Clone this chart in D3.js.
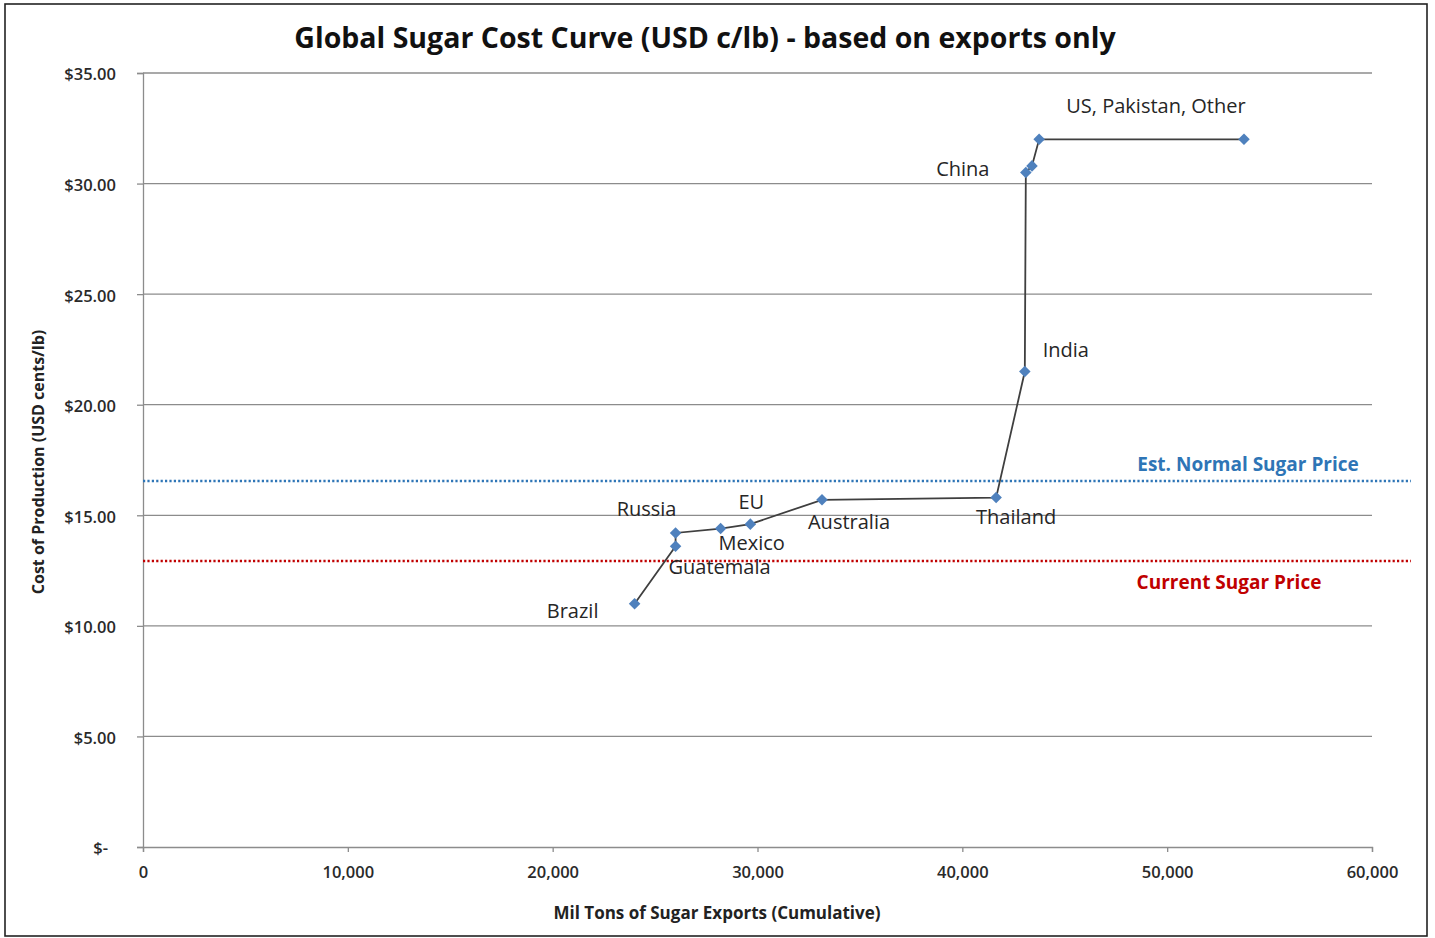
<!DOCTYPE html>
<html>
<head>
<meta charset="utf-8">
<script src="https://cdn.jsdelivr.net/npm/d3@7"></script>
<style>
  html, body { margin: 0; padding: 0; background: #fff; }
  svg { display: block; }
  text { font-family: "Open Sans", "DejaVu Sans", sans-serif; }
</style>
</head>
<body>
<svg id="chart" width="1435" height="938"></svg>
<script>
// Cumulative export volume (x) and cost of production (y) per producer
const countries = ["Brazil", "Guatemala", "Russia", "Mexico", "EU", "Australia", "Thailand", "India", "China", "", "", "US, Pakistan, Other"];
const cumulativeExports = [24000, 26000, 26000, 28200, 29650, 33150, 41650, 43050, 43100, 43400, 43750, 53750];
const productionCost = [11.0, 13.6, 14.2, 14.4, 14.6, 15.7, 15.8, 21.5, 30.5, 30.8, 32.0, 32.0];

// Reference price levels
const priceNames = ["Est. Normal Sugar Price", "Current Sugar Price"];
const priceValues = [16.55, 12.93];
const priceColors = ["#2e75b6", "#c00000"];

const xTicks = [0, 10000, 20000, 30000, 40000, 50000, 60000];
const yTicks = [0, 5, 10, 15, 20, 25, 30, 35];

// Label anchor offsets (pixels) relative to each point
const labelOffsets = [[-62, 7], [44, 21], [-29, -24], [31, 14], [1, -22], [27, 22], [20, 19], [41, -22], [-63, -4], [0, 0], [0, 0], [-88, -33]];

const svg = d3.select("#chart");

// Outer frame
svg.append("rect").attr("x", 5).attr("y", 4).attr("width", 1422).attr("height", 932)
  .attr("fill", "#fff").attr("stroke", "#222").attr("stroke-width", 1.6);

const x = d3.scaleLinear().domain([0, 60000]).range([143, 1372]);
const y = d3.scaleLinear().domain([0, 35]).range([847, 73]);

// Horizontal gridlines
svg.append("g").selectAll("line").data(yTicks.filter(d => d > 0)).join("line")
  .attr("x1", x(0)).attr("x2", x(60000))
  .attr("y1", d => y(d)).attr("y2", d => y(d))
  .attr("stroke", "#8c8c8c").attr("stroke-width", 1.3);

// Y axis
const yAxis = d3.axisLeft(y).tickValues(yTicks).tickSize(6).tickPadding(21)
  .tickFormat(d => d === 0 ? "$-" : "$" + d3.format(".2f")(d));
const gy = svg.append("g").attr("transform", `translate(${x(0)},0)`).call(yAxis);
gy.select(".domain").attr("stroke", "#8c8c8c").attr("stroke-width", 1.3);
gy.selectAll(".tick line").attr("stroke", "#8c8c8c").attr("stroke-width", 1.3);
gy.selectAll(".tick text").attr("fill", "#2a2a2a").attr("font-size", 16.5).attr("font-weight", 600)
  .attr("dx", d => d === 0 ? -8 : 0).attr("dy", "0.42em");

// X axis
const xAxis = d3.axisBottom(x).tickValues(xTicks).tickSize(5).tickPadding(14)
  .tickFormat(d3.format(","));
const gx = svg.append("g").attr("transform", `translate(0,${y(0)})`).call(xAxis);
gx.select(".domain").attr("stroke", "#8c8c8c").attr("stroke-width", 1.3);
gx.selectAll(".tick line").attr("stroke", "#8c8c8c").attr("stroke-width", 1.3);
gx.selectAll(".tick text").attr("fill", "#2a2a2a").attr("font-size", 16.5).attr("font-weight", 600);

// Price reference lines
priceValues.forEach((v, i) => {
  svg.append("line")
    .attr("x1", x(0)).attr("x2", 1411)
    .attr("y1", y(v)).attr("y2", y(v))
    .attr("stroke", priceColors[i]).attr("stroke-width", 2.4)
    .attr("stroke-dasharray", "2.2,2.2");
});
svg.append("text").attr("x", 1248).attr("y", y(priceValues[0]) - 10)
  .attr("text-anchor", "middle").attr("fill", priceColors[0])
  .attr("font-size", 19).attr("font-weight", 700).text(priceNames[0]);
svg.append("text").attr("x", 1229).attr("y", y(priceValues[1]) + 28)
  .attr("text-anchor", "middle").attr("fill", priceColors[1])
  .attr("font-size", 19).attr("font-weight", 700).text(priceNames[1]);

// Cost curve
const pts = cumulativeExports.map((v, i) => ({ x: v, y: productionCost[i], name: countries[i], off: labelOffsets[i] }));
svg.append("path").datum(pts)
  .attr("d", d3.line().x(d => x(d.x)).y(d => y(d.y)))
  .attr("fill", "none").attr("stroke", "#3f3f3f").attr("stroke-width", 1.8);

svg.append("g").selectAll("path").data(pts).join("path")
  .attr("d", d3.symbol().type(d3.symbolDiamond2).size(85))
  .attr("transform", d => `translate(${x(d.x)},${y(d.y)})`)
  .attr("fill", "#4f81bd");

// Country labels
svg.append("g").selectAll("text").data(pts.filter(d => d.name)).join("text")
  .attr("x", d => x(d.x) + d.off[0]).attr("y", d => y(d.y) + d.off[1])
  .attr("dy", "0.35em").attr("text-anchor", "middle")
  .attr("fill", "#262626").attr("font-size", 20)
  .text(d => d.name);

// Title
svg.append("text").attr("x", 705).attr("y", 48).attr("text-anchor", "middle")
  .attr("font-size", 28.5).attr("font-weight", 700).attr("fill", "#111")
  .text("Global Sugar Cost Curve (USD c/lb) - based on exports only");

// Axis titles
svg.append("text").attr("x", 717).attr("y", 919).attr("text-anchor", "middle")
  .attr("font-size", 17).attr("font-weight", 700).attr("fill", "#222")
  .text("Mil Tons of Sugar Exports  (Cumulative)");
svg.append("text").attr("transform", "translate(44,462) rotate(-90)").attr("text-anchor", "middle")
  .attr("font-size", 16).attr("font-weight", 700).attr("fill", "#222")
  .text("Cost of Production (USD cents/lb)");
</script>
</body>
</html>
